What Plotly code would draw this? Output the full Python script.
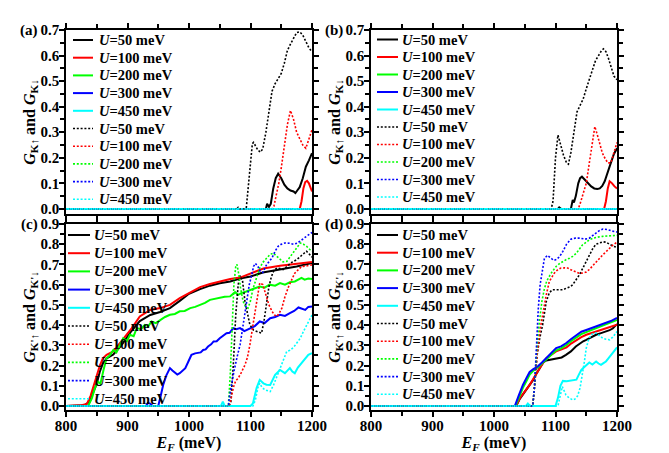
import plotly.graph_objects as go

# ---------------- data ----------------
U_VALUES = ["50", "100", "200", "300", "450"]
COLORS = ["#000000", "#ff0000", "#00ff00", "#0000ff", "#00ffff"]
X_TICKS = [800, 900, 1000, 1100, 1200]
PANEL_TAGS = ["(a)", "(b)", "(c)", "(d)"]
Y_TITLES = ["<i>G</i><sub>K↑</sub> and <i>G</i><sub>K↓</sub>",
            "<i>G</i><sub>K↑</sub> and <i>G</i><sub>K↓</sub>",
            "<i>G</i><sub>K'↑</sub> and <i>G</i><sub>K'↓</sub>",
            "<i>G</i><sub>K'↑</sub> and <i>G</i><sub>K'↓</sub>"]
X_TITLE = "<i>E</i><sub><i>F</i></sub> (meV)"

ZERO_E = [800, 1200]
ZERO_G = [0, 0]

# panel (a)
A_S50_E = [800, 1125, 1127, 1130, 1133, 1137, 1141, 1145, 1150, 1155, 1160, 1165, 1170, 1173, 1176, 1180, 1185, 1190, 1195, 1200]
A_S50_G = [0, 0, 0.02, 0.008, 0.02, 0.08, 0.12, 0.138, 0.12, 0.095, 0.08, 0.072, 0.068, 0.062, 0.072, 0.085, 0.12, 0.165, 0.19, 0.218]
A_S100_E = [800, 1180, 1183, 1186, 1189, 1192, 1195, 1198, 1200]
A_S100_G = [0, 0, 0.03, 0.08, 0.105, 0.11, 0.1, 0.08, 0.068]
A_D50_E = [800, 1078, 1080, 1083, 1093, 1097, 1100, 1103, 1105, 1108, 1112, 1116, 1120, 1125, 1130, 1135, 1140, 1145, 1150, 1155, 1160, 1165, 1170, 1175, 1180, 1185, 1190, 1195, 1200]
A_D50_G = [0, 0, 0.006, 0, 0, 0.1, 0.2, 0.255, 0.26, 0.245, 0.23, 0.222, 0.235, 0.3, 0.39, 0.46, 0.49, 0.51, 0.53, 0.57, 0.62, 0.645, 0.67, 0.69, 0.693, 0.68, 0.655, 0.63, 0.615]
A_D100_E = [800, 1135, 1138, 1142, 1146, 1150, 1155, 1160, 1165, 1170, 1175, 1180, 1185, 1190, 1195, 1200]
A_D100_G = [0, 0, 0.01, 0.05, 0.1, 0.16, 0.24, 0.33, 0.385, 0.35, 0.3, 0.275, 0.25, 0.237, 0.27, 0.31]

# panel (b)
B_S50_E = [800, 1104, 1106, 1109, 1125, 1128, 1130, 1133, 1137, 1140, 1143, 1148, 1153, 1158, 1163, 1168, 1172, 1176, 1180, 1185, 1190, 1195, 1200]
B_S50_G = [0, 0, 0.006, 0, 0, 0.035, 0.025, 0.05, 0.1, 0.12, 0.126, 0.112, 0.098, 0.088, 0.08, 0.078, 0.08, 0.09, 0.108, 0.14, 0.18, 0.215, 0.237]
B_S100_E = [800, 1179, 1182, 1185, 1188, 1192, 1196, 1200]
B_S100_G = [0, 0, 0.03, 0.08, 0.108, 0.1, 0.088, 0.08]
B_D50_E = [800, 1093, 1096, 1100, 1104, 1108, 1113, 1118, 1121, 1125, 1130, 1135, 1140, 1145, 1150, 1155, 1160, 1165, 1170, 1175, 1178, 1182, 1186, 1190, 1195, 1200]
B_D50_G = [0, 0, 0.03, 0.2, 0.289, 0.25, 0.21, 0.18, 0.175, 0.22, 0.3, 0.38, 0.405, 0.43, 0.47, 0.51, 0.55, 0.58, 0.6, 0.62, 0.626, 0.615, 0.59, 0.56, 0.52, 0.505]
B_D100_E = [800, 1137, 1140, 1145, 1150, 1155, 1160, 1164, 1168, 1172, 1176, 1180, 1185, 1190, 1195, 1200]
B_D100_G = [0, 0, 0.02, 0.06, 0.1, 0.18, 0.26, 0.322, 0.29, 0.25, 0.22, 0.2, 0.18, 0.18, 0.22, 0.26]

# panel (c)
C_S50_E = [800, 830, 838, 845, 850, 855, 860, 866, 877, 890, 905, 920, 937, 953, 969, 985, 1000, 1018, 1034, 1050, 1067, 1083, 1100, 1120, 1148, 1175, 1200]
C_S50_G = [0, 0.003, 0.02, 0.07, 0.11, 0.17, 0.21, 0.235, 0.255, 0.3, 0.365, 0.42, 0.45, 0.465, 0.484, 0.52, 0.555, 0.578, 0.595, 0.607, 0.616, 0.63, 0.64, 0.66, 0.675, 0.69, 0.707]
C_S100_E = [800, 825, 834, 840, 847, 855, 860, 866, 877, 890, 907, 920, 937, 953, 969, 985, 1002, 1018, 1034, 1050, 1067, 1083, 1100, 1121, 1148, 1175, 1200]
C_S100_G = [0, 0.004, 0.01, 0.05, 0.12, 0.2, 0.235, 0.253, 0.27, 0.32, 0.385, 0.443, 0.475, 0.484, 0.5, 0.533, 0.563, 0.588, 0.603, 0.616, 0.628, 0.635, 0.655, 0.68, 0.693, 0.702, 0.712]
C_S200_E = [800, 836, 842, 847, 852, 856, 861, 866, 871, 877, 882, 887, 893, 899, 904, 910, 915, 922, 928, 934, 939, 946, 953, 961, 969, 977, 985, 993, 1002, 1010, 1018, 1026, 1034, 1042, 1050, 1058, 1067, 1072, 1075, 1080, 1085, 1092, 1100, 1108, 1115, 1123, 1131, 1140, 1148, 1156, 1164, 1172, 1178, 1183, 1188, 1194, 1200]
C_S200_G = [0, 0, 0.038, 0.088, 0.12, 0.11, 0.178, 0.236, 0.25, 0.277, 0.265, 0.3, 0.335, 0.32, 0.352, 0.345, 0.385, 0.38, 0.401, 0.395, 0.418, 0.41, 0.426, 0.44, 0.451, 0.455, 0.468, 0.47, 0.484, 0.49, 0.5, 0.51, 0.525, 0.53, 0.533, 0.54, 0.542, 0.555, 0.563, 0.55, 0.558, 0.565, 0.575, 0.585, 0.591, 0.585, 0.6, 0.595, 0.608, 0.6, 0.612, 0.616, 0.625, 0.633, 0.625, 0.63, 0.628]
C_S300_E = [800, 930, 933, 937, 941, 950, 954, 958, 963, 969, 973, 977, 981, 985, 989, 994, 999, 1004, 1010, 1015, 1019, 1023, 1027, 1031, 1036, 1040, 1045, 1050, 1055, 1061, 1066, 1072, 1077, 1083, 1090, 1099, 1107, 1115, 1123, 1132, 1140, 1148, 1156, 1164, 1171, 1178, 1183, 1189, 1194, 1200]
C_S300_G = [0, 0, 0.015, 0.012, 0, 0, 0.05, 0.104, 0.15, 0.187, 0.175, 0.165, 0.155, 0.162, 0.175, 0.187, 0.22, 0.253, 0.26, 0.261, 0.265, 0.277, 0.28, 0.294, 0.305, 0.319, 0.32, 0.335, 0.345, 0.36, 0.362, 0.385, 0.38, 0.385, 0.37, 0.385, 0.395, 0.418, 0.41, 0.434, 0.44, 0.451, 0.445, 0.459, 0.47, 0.487, 0.48, 0.475, 0.49, 0.492]
C_S450_E = [800, 1052, 1055, 1058, 1100, 1104, 1110, 1115, 1121, 1126, 1132, 1136, 1140, 1148, 1152, 1156, 1160, 1164, 1168, 1172, 1177, 1183, 1188, 1194, 1200]
C_S450_G = [0, 0, 0.022, 0, 0, 0.013, 0.09, 0.129, 0.112, 0.105, 0.104, 0.13, 0.154, 0.178, 0.17, 0.162, 0.175, 0.187, 0.17, 0.162, 0.19, 0.211, 0.23, 0.253, 0.261]
C_D50_E = [800, 1065, 1068, 1072, 1076, 1080, 1083, 1087, 1091, 1095, 1099, 1105, 1110, 1114, 1118, 1122, 1126, 1130, 1134, 1138, 1143, 1148, 1153, 1160, 1167, 1175, 1183, 1191, 1196, 1200]
C_D50_G = [0, 0, 0.02, 0.2, 0.45, 0.6, 0.645, 0.62, 0.517, 0.45, 0.401, 0.375, 0.368, 0.362, 0.36, 0.42, 0.517, 0.59, 0.64, 0.67, 0.682, 0.68, 0.674, 0.69, 0.71, 0.723, 0.745, 0.765, 0.75, 0.735]
C_D100_E = [800, 1065, 1068, 1072, 1076, 1080, 1085, 1091, 1095, 1099, 1104, 1110, 1115, 1120, 1126, 1130, 1135, 1139, 1143, 1147, 1151, 1156, 1162, 1167, 1172, 1178, 1183, 1190, 1195, 1200]
C_D100_G = [0, 0, 0.03, 0.09, 0.125, 0.137, 0.165, 0.203, 0.24, 0.302, 0.4, 0.517, 0.608, 0.6, 0.533, 0.5, 0.468, 0.45, 0.443, 0.46, 0.484, 0.54, 0.591, 0.625, 0.657, 0.675, 0.69, 0.692, 0.695, 0.698]
C_D200_E = [800, 1064, 1067, 1070, 1073, 1076, 1078, 1081, 1084, 1088, 1092, 1096, 1100, 1104, 1108, 1115, 1120, 1126, 1132, 1137, 1143, 1148, 1153, 1159, 1165, 1170, 1176, 1181, 1186, 1191, 1196, 1200]
C_D200_G = [0, 0, 0.15, 0.4, 0.6, 0.69, 0.7, 0.65, 0.58, 0.517, 0.49, 0.484, 0.52, 0.58, 0.62, 0.682, 0.71, 0.732, 0.75, 0.756, 0.74, 0.723, 0.712, 0.715, 0.74, 0.765, 0.79, 0.806, 0.8, 0.79, 0.775, 0.765]
C_D300_E = [800, 1064, 1066, 1069, 1073, 1078, 1083, 1088, 1094, 1098, 1102, 1105, 1108, 1112, 1116, 1120, 1126, 1130, 1135, 1140, 1145, 1150, 1156, 1163, 1170, 1176, 1181, 1186, 1191, 1196, 1200]
C_D300_G = [0, 0, 0.05, 0.104, 0.17, 0.24, 0.302, 0.4, 0.517, 0.6, 0.649, 0.69, 0.705, 0.69, 0.664, 0.66, 0.698, 0.715, 0.732, 0.765, 0.79, 0.8, 0.806, 0.805, 0.8, 0.805, 0.815, 0.825, 0.839, 0.85, 0.858]
C_D450_E = [800, 1104, 1108, 1112, 1115, 1119, 1124, 1128, 1132, 1137, 1142, 1148, 1153, 1159, 1164, 1170, 1175, 1181, 1186, 1192, 1196, 1200]
C_D450_G = [0, 0, 0.03, 0.09, 0.112, 0.09, 0.079, 0.075, 0.071, 0.1, 0.137, 0.18, 0.22, 0.27, 0.275, 0.29, 0.31, 0.335, 0.368, 0.4, 0.425, 0.45]

# panel (d)
D_S50_E = [800, 1036, 1042, 1050, 1058, 1064, 1069, 1075, 1080, 1085, 1090, 1095, 1100, 1105, 1110, 1117, 1125, 1133, 1140, 1145, 1150, 1158, 1166, 1174, 1182, 1188, 1193, 1200]
D_S50_G = [0, 0, 0.035, 0.07, 0.1, 0.13, 0.16, 0.19, 0.215, 0.225, 0.228, 0.23, 0.232, 0.236, 0.24, 0.253, 0.27, 0.294, 0.31, 0.32, 0.327, 0.34, 0.352, 0.36, 0.368, 0.375, 0.383, 0.405]
D_S100_E = [800, 1036, 1042, 1050, 1058, 1064, 1069, 1075, 1085, 1093, 1101, 1110, 1118, 1126, 1134, 1142, 1150, 1158, 1166, 1174, 1182, 1190, 1200]
D_S100_G = [0, 0, 0.038, 0.07, 0.104, 0.135, 0.162, 0.19, 0.236, 0.255, 0.27, 0.28, 0.29, 0.31, 0.327, 0.34, 0.352, 0.36, 0.368, 0.377, 0.385, 0.393, 0.402]
D_S200_E = [800, 1035, 1041, 1047, 1053, 1058, 1064, 1071, 1078, 1085, 1093, 1101, 1109, 1117, 1125, 1134, 1142, 1150, 1158, 1166, 1174, 1182, 1190, 1200]
D_S200_G = [0, 0, 0.045, 0.09, 0.125, 0.155, 0.175, 0.19, 0.21, 0.23, 0.255, 0.275, 0.285, 0.3, 0.32, 0.34, 0.355, 0.365, 0.375, 0.385, 0.395, 0.405, 0.415, 0.425]
D_S300_E = [800, 1034, 1040, 1047, 1053, 1058, 1064, 1071, 1078, 1085, 1093, 1101, 1109, 1117, 1125, 1134, 1142, 1150, 1158, 1166, 1174, 1182, 1190, 1200]
D_S300_G = [0, 0, 0.05, 0.104, 0.14, 0.168, 0.183, 0.195, 0.215, 0.236, 0.262, 0.286, 0.295, 0.31, 0.33, 0.352, 0.367, 0.376, 0.385, 0.393, 0.4, 0.41, 0.42, 0.435]
D_S450_E = [800, 1052, 1055, 1058, 1100, 1104, 1108, 1112, 1118, 1124, 1130, 1134, 1138, 1142, 1146, 1150, 1155, 1160, 1166, 1170, 1174, 1178, 1182, 1186, 1190, 1195, 1200]
D_S450_G = [0, 0, 0.012, 0, 0, 0.04, 0.1, 0.124, 0.122, 0.124, 0.126, 0.13, 0.155, 0.178, 0.19, 0.203, 0.215, 0.205, 0.22, 0.21, 0.203, 0.212, 0.22, 0.235, 0.253, 0.27, 0.29]
D_D50_E = [800, 1063, 1066, 1070, 1074, 1079, 1085, 1090, 1095, 1100, 1106, 1112, 1118, 1124, 1128, 1134, 1139, 1145, 1150, 1155, 1161, 1166, 1171, 1177, 1182, 1188, 1194, 1200]
D_D50_G = [0, 0, 0.1, 0.25, 0.33, 0.4, 0.517, 0.56, 0.575, 0.575, 0.575, 0.575, 0.583, 0.59, 0.6, 0.625, 0.649, 0.685, 0.715, 0.75, 0.781, 0.8, 0.806, 0.812, 0.81, 0.8, 0.79, 0.785]
D_D100_E = [800, 1063, 1066, 1070, 1075, 1080, 1085, 1090, 1098, 1104, 1109, 1115, 1120, 1126, 1133, 1139, 1145, 1150, 1155, 1161, 1166, 1172, 1177, 1182, 1188, 1193, 1200]
D_D100_G = [0, 0, 0.1, 0.25, 0.38, 0.467, 0.55, 0.616, 0.657, 0.675, 0.682, 0.683, 0.682, 0.672, 0.663, 0.656, 0.658, 0.662, 0.675, 0.695, 0.715, 0.735, 0.748, 0.762, 0.78, 0.795, 0.81]
D_D200_E = [800, 1063, 1066, 1070, 1074, 1078, 1082, 1086, 1093, 1101, 1107, 1112, 1118, 1123, 1128, 1134, 1139, 1144, 1150, 1155, 1161, 1166, 1172, 1177, 1183, 1188, 1194, 1200]
D_D200_G = [0, 0, 0.1, 0.3, 0.42, 0.52, 0.58, 0.62, 0.657, 0.69, 0.705, 0.715, 0.725, 0.731, 0.74, 0.756, 0.775, 0.797, 0.81, 0.822, 0.83, 0.834, 0.837, 0.839, 0.84, 0.842, 0.843, 0.844]
D_D300_E = [800, 1063, 1066, 1069, 1072, 1075, 1078, 1082, 1087, 1092, 1097, 1102, 1107, 1112, 1118, 1125, 1132, 1140, 1148, 1155, 1162, 1170, 1177, 1185, 1192, 1200]
D_D300_G = [0, 0, 0.1, 0.3, 0.48, 0.6, 0.66, 0.73, 0.745, 0.73, 0.72, 0.725, 0.74, 0.765, 0.8, 0.825, 0.83, 0.83, 0.825, 0.83, 0.845, 0.865, 0.875, 0.872, 0.865, 0.86]
D_D450_E = [800, 1055, 1057, 1059, 1104, 1107, 1111, 1114, 1117, 1122, 1128, 1132, 1136, 1140, 1144, 1147, 1150, 1154, 1158, 1162, 1166, 1171, 1177, 1182, 1188, 1193, 1200]
D_D450_G = [0, 0, 0.01, 0, 0, 0.05, 0.096, 0.075, 0.054, 0.04, 0.03, 0.035, 0.05, 0.09, 0.154, 0.22, 0.286, 0.33, 0.352, 0.36, 0.36, 0.35, 0.335, 0.33, 0.327, 0.34, 0.368]

PANEL_SOLID = [
    [(A_S50_E, A_S50_G), (A_S100_E, A_S100_G), (ZERO_E, ZERO_G), (ZERO_E, ZERO_G), (ZERO_E, ZERO_G)],
    [(B_S50_E, B_S50_G), (B_S100_E, B_S100_G), (ZERO_E, ZERO_G), (ZERO_E, ZERO_G), (ZERO_E, ZERO_G)],
    [(C_S50_E, C_S50_G), (C_S100_E, C_S100_G), (C_S200_E, C_S200_G), (C_S300_E, C_S300_G), (C_S450_E, C_S450_G)],
    [(D_S50_E, D_S50_G), (D_S100_E, D_S100_G), (D_S200_E, D_S200_G), (D_S300_E, D_S300_G), (D_S450_E, D_S450_G)],
]
PANEL_DOTTED = [
    [(A_D50_E, A_D50_G), (A_D100_E, A_D100_G), (ZERO_E, ZERO_G), (ZERO_E, ZERO_G), (ZERO_E, ZERO_G)],
    [(B_D50_E, B_D50_G), (B_D100_E, B_D100_G), (ZERO_E, ZERO_G), (ZERO_E, ZERO_G), (ZERO_E, ZERO_G)],
    [(C_D50_E, C_D50_G), (C_D100_E, C_D100_G), (C_D200_E, C_D200_G), (C_D300_E, C_D300_G), (C_D450_E, C_D450_G)],
    [(D_D50_E, D_D50_G), (D_D100_E, D_D100_G), (D_D200_E, D_D200_G), (D_D300_E, D_D300_G), (D_D450_E, D_D450_G)],
]
Y_MAX = [0.7, 0.7, 0.9, 0.9]

# ---------------- layout geometry (pixels) ----------------
W, H = 669, 453
FONT = "Liberation Serif"
DOT = "2px,1.8px"
# plot boxes: left, right, top, bottom in pixels
BOX = [(66, 312, 30, 214), (371, 617, 30, 214), (66, 312, 224, 410), (371, 617, 224, 410)]
# legend: sample start/end offset from left axis, text offset, first row offset, row step
LEG = [(7, 27, 31, 10, 17.7), (6, 27, 29, 9.5, 17.5), (2, 24, 26, 11, 18.2), (6, 27, 29, 11, 17.7)]


def px_x(p):
    return p / W


def px_y(p):
    return 1 - p / H


fig = go.Figure()
annotations = []
shapes = []

for k in range(4):
    xa = "x" if k == 0 else f"x{k + 1}"
    ya = "y" if k == 0 else f"y{k + 1}"
    for i, (e, g) in enumerate(PANEL_SOLID[k]):
        fig.add_trace(go.Scatter(x=e, y=g, mode="lines", xaxis=xa, yaxis=ya,
                                 line=dict(color=COLORS[i], width=2),
                                 name=f"U={U_VALUES[i]} meV", showlegend=False))
    for i, (e, g) in enumerate(PANEL_DOTTED[k]):
        fig.add_trace(go.Scatter(x=e, y=g, mode="lines", xaxis=xa, yaxis=ya,
                                 line=dict(color=COLORS[i], width=1.6, dash=DOT),
                                 name=f"U={U_VALUES[i]} meV", showlegend=False))

    l, r, t, b = BOX[k]
    bottom = k >= 2
    axis_common = dict(showline=True, linecolor="black", linewidth=1.5, mirror="ticks",
                       ticks="outside", ticklen=5, tickwidth=1.5, tickcolor="black",
                       showgrid=False, zeroline=False, automargin=False,
                       tickfont=dict(family=FONT, size=15, color="black", weight="bold"),
                       minor=dict(ticks="outside", ticklen=4, tickwidth=1.5, tickcolor="black", showgrid=False))
    xkey = "xaxis" if k == 0 else f"xaxis{k + 1}"
    ykey = "yaxis" if k == 0 else f"yaxis{k + 1}"
    xdict = dict(axis_common, domain=[px_x(l), px_x(r)], anchor=ya, range=[800, 1200],
                 tickmode="array", tickvals=X_TICKS, ticktext=[str(v) for v in X_TICKS],
                 showticklabels=bottom, ticklabelstandoff=-4)
    xdict["minor"] = dict(axis_common["minor"], dtick=50, tick0=800)
    if bottom:
        xdict["title"] = dict(text=X_TITLE, standoff=2,
                              font=dict(family=FONT, size=16, color="black", weight="bold"))
    ydict = dict(axis_common, domain=[px_y(b), px_y(t)], anchor=xa, range=[-0.02, Y_MAX[k]],
                 dtick=0.1, tick0=0, tickformat=".1f", ticklabelstandoff=-3,
                 title=dict(text=Y_TITLES[k], standoff=0,
                            font=dict(family=FONT, size=16, color="black", weight="bold")))
    ydict["minor"] = dict(axis_common["minor"], dtick=0.05, tick0=0)
    fig.update_layout({xkey: xdict, ykey: ydict})

    # panel tag
    annotations.append(dict(text=PANEL_TAGS[k], xref="paper", yref="paper",
                            x=px_x(l - 26), y=px_y(t), xanchor="right", yanchor="middle",
                            showarrow=False, font=dict(family=FONT, size=15, color="black", weight="bold")))
    # legend (one per panel)
    s0, s1, tx, r0, step = LEG[k]
    for j in range(10):
        ci = j % 5
        yy = px_y(t + r0 + j * step)
        shapes.append(dict(type="line", xref="paper", yref="paper",
                           x0=px_x(l + s0), x1=px_x(l + s1), y0=yy, y1=yy,
                           line=dict(color=COLORS[ci], width=2 if j < 5 else 1.6,
                                     dash="solid" if j < 5 else DOT)))
        annotations.append(dict(text=f"<i>U</i>={U_VALUES[ci]} meV", xref="paper", yref="paper",
                                x=px_x(l + tx), y=yy, xanchor="left", yanchor="middle",
                                showarrow=False,
                                font=dict(family=FONT, size=14.5, color="black", weight="bold")))

fig.update_layout(width=W, height=H, margin=dict(l=0, r=0, t=0, b=0, autoexpand=False),
                  paper_bgcolor="white", plot_bgcolor="white", showlegend=False,
                  annotations=annotations, shapes=shapes)

fig.write_html("out.html", config={"displayModeBar": False},
               post_script="document.body.style.margin='0px';document.body.style.padding='0px';")
